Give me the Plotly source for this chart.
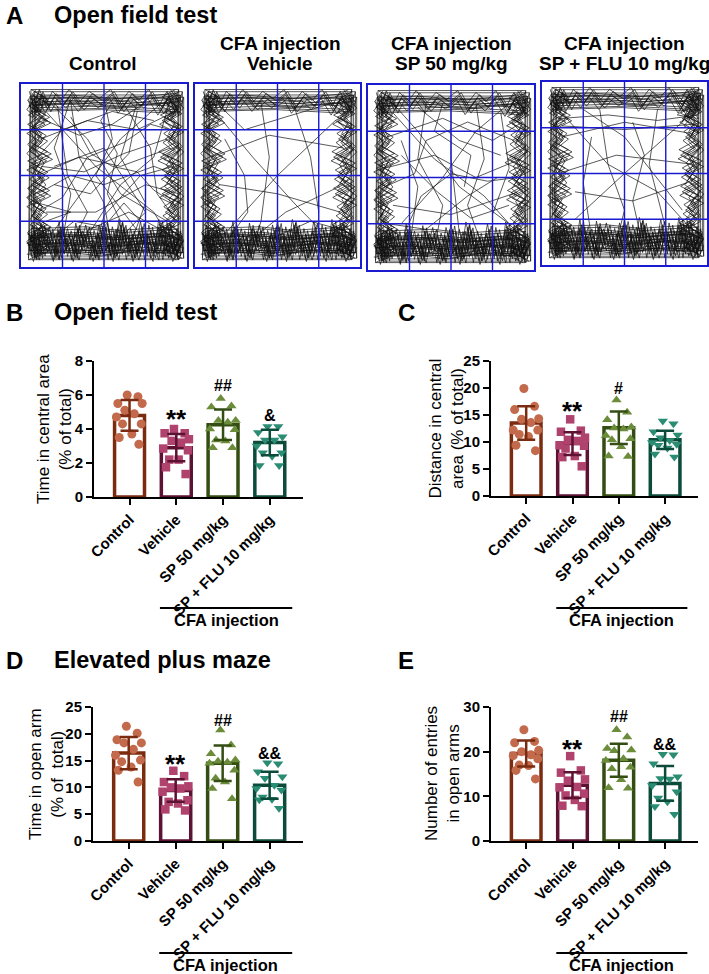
import plotly.graph_objects as go

W, H = 709, 974
FONT = "Liberation Sans, Arial, sans-serif"

GROUPS = ["Control", "Vehicle", "SP 50 mg/kg", "SP + FLU 10 mg/kg"]
LINE_COLORS = ["#7a2b10", "#5c1233", "#344d12", "#0c4a3a"]
DOT_COLORS = ["#c26a4b", "#b0436d", "#6b8c3a", "#2a8c72"]
DOT_SYMBOLS = ["circle", "square", "triangle-up", "triangle-down"]

# B - open field, time in central area (% of total)
B_MEANS = [4.8, 2.9, 4.25, 3.2]
B_SD = [0.9, 0.8, 0.9, 0.75]
B_POINTS = [
    [6.0, 5.9, 5.5, 5.5, 5.1, 4.9, 4.7, 4.3, 4.3, 3.7, 3.5, 3.1],
    [4.0, 3.75, 3.75, 3.4, 3.3, 3.2, 2.85, 2.75, 2.2, 2.2, 1.75, 1.35],
    [5.8, 5.35, 5.3, 4.5, 4.5, 4.4, 4.0, 3.95, 3.35, 3.3, 2.9, 2.9],
    [4.15, 4.15, 3.8, 3.55, 3.35, 3.35, 3.0, 2.6, 2.6, 2.4, 1.85, 1.85],
]
B_MARKS = ["", "**", "##", "&"]
B_MARK_Y = [0, 4.7, 6.55, 4.8]

# C - open field, distance in central area (% of total)
C_MEANS = [13.5, 9.7, 12.65, 10.4]
C_SD = [3.1, 2.1, 3.0, 1.7]
C_POINTS = [
    [19.9, 16.6, 16.0, 14.3, 14.2, 13.6, 12.2, 12.2, 11.4, 11.0, 9.4, 8.4],
    [14.2, 12.1, 11.9, 10.8, 10.4, 10.2, 9.4, 9.3, 8.8, 7.4, 7.2, 5.5],
    [17.8, 15.5, 14.1, 12.8, 12.6, 12.4, 11.2, 10.6, 10.4, 9.1, 7.4, 7.3],
    [13.9, 13.4, 11.9, 11.3, 10.8, 10.3, 9.9, 9.6, 9.4, 8.9, 7.8, 7.2],
]
C_MARKS = ["", "**", "#", ""]
C_MARK_Y = [0, 16.2, 19.9, 0]

# D - elevated plus maze, time in open arm (% of total)
D_MEANS = [16.4, 9.4, 14.5, 10.4]
D_SD = [3.0, 2.1, 3.3, 2.5]
D_POINTS = [
    [21.4, 20.1, 18.9, 18.3, 18.3, 17.1, 16.0, 15.1, 14.8, 13.8, 13.2, 11.0],
    [13.1, 12.1, 11.0, 10.2, 10.0, 9.8, 9.2, 7.6, 7.3, 7.0, 5.9, 5.7],
    [20.7, 17.9, 16.3, 15.1, 14.9, 14.7, 14.5, 13.2, 11.7, 11.0, 9.8, 7.9],
    [14.6, 14.4, 12.9, 12.0, 11.7, 10.4, 9.8, 9.5, 8.2, 7.8, 7.7, 6.1],
]
D_MARKS = ["", "**", "##", "&&"]
D_MARK_Y = [0, 14.8, 22.5, 16.3]

# E - elevated plus maze, number of entries in open arms
E_MEANS = [19.6, 12.5, 18.1, 12.9]
E_SD = [2.9, 2.9, 3.7, 3.9]
E_POINTS = [
    [24.9, 22.3, 22.0, 20.3, 20.0, 19.3, 19.1, 18.4, 17.0, 16.9, 15.8, 13.9],
    [19.0, 15.8, 15.3, 13.8, 13.5, 12.1, 12.0, 10.6, 10.2, 9.2, 7.9, 7.8],
    [24.9, 23.3, 20.7, 20.4, 20.2, 18.4, 18.0, 16.5, 16.2, 13.7, 11.9, 11.8],
    [19.4, 19.3, 17.3, 14.4, 14.0, 13.9, 12.4, 11.0, 9.6, 8.8, 7.7, 6.0],
]
E_MARKS = ["", "**", "##", "&&"]
E_MARK_Y = [0, 21.1, 27.9, 21.7]

# A - example tracks (arena coordinates, 0..1)
BOTTOM_A = ("0.06,0.07 0.08,0.2 0.11,0.06 0.13,0.21 0.16,0.08 0.18,0.19 0.21,0.06 0.24,0.22 "
            "0.26,0.07 0.29,0.18 0.32,0.06 0.34,0.21 0.37,0.09 0.40,0.2 0.43,0.06 0.45,0.17 "
            "0.48,0.07 0.51,0.22 0.54,0.06 0.56,0.19 0.59,0.08 0.62,0.21 0.65,0.06 0.67,0.18 "
            "0.70,0.07 0.73,0.22 0.76,0.06 0.78,0.2 0.81,0.08 0.84,0.19 0.87,0.06 0.89,0.21 "
            "0.92,0.07 0.95,0.18 0.96,0.06")
BOTTOM_B = ("0.96,0.12 0.93,0.05 0.9,0.15 0.87,0.09 0.84,0.23 0.81,0.05 0.78,0.13 0.75,0.1 "
            "0.72,0.16 0.69,0.05 0.66,0.14 0.63,0.1 0.6,0.23 0.57,0.05 0.54,0.14 0.51,0.09 "
            "0.48,0.2 0.45,0.05 0.42,0.13 0.39,0.11 0.36,0.18 0.33,0.05 0.3,0.14 0.27,0.1 "
            "0.24,0.17 0.21,0.05 0.18,0.13 0.15,0.11 0.12,0.18 0.09,0.05 0.06,0.15")
BOTTOM_LINES = [
    "0.05,0.09 0.3,0.1 0.5,0.08 0.7,0.11 0.96,0.09",
    "0.06,0.14 0.25,0.15 0.55,0.13 0.8,0.15 0.95,0.13",
    "0.07,0.18 0.4,0.19 0.6,0.17 0.94,0.19",
    "0.06,0.06 0.96,0.06 0.96,0.94 0.07,0.94 0.06,0.06",
]
TOP_A = ("0.06,0.93 0.09,0.84 0.12,0.94 0.16,0.86 0.2,0.93 0.25,0.88 0.3,0.94 0.36,0.87 "
         "0.42,0.93 0.48,0.89 0.55,0.94 0.6,0.86 0.66,0.93 0.72,0.88 0.78,0.94 0.84,0.85 "
         "0.89,0.93 0.93,0.84 0.96,0.94")
TOP_LINES = ["0.06,0.9 0.3,0.91 0.6,0.89 0.95,0.92", "0.08,0.87 0.5,0.88 0.93,0.86"]
LEFT_A = ("0.06,0.06 0.15,0.1 0.05,0.15 0.17,0.2 0.07,0.25 0.14,0.3 0.05,0.35 0.16,0.4 "
          "0.06,0.45 0.15,0.5 0.05,0.55 0.17,0.6 0.07,0.65 0.14,0.7 0.05,0.75 0.16,0.8 "
          "0.06,0.85 0.15,0.9 0.07,0.94")
LEFT_B = ("0.1,0.94 0.05,0.88 0.13,0.82 0.07,0.76 0.11,0.7 0.05,0.64 0.12,0.58 0.08,0.52 "
          "0.13,0.46 0.05,0.4 0.11,0.34 0.07,0.28 0.13,0.22 0.05,0.16 0.1,0.08")
RIGHT_A = ("0.95,0.06 0.86,0.1 0.96,0.15 0.84,0.2 0.94,0.25 0.87,0.3 0.96,0.35 0.85,0.4 "
           "0.95,0.45 0.86,0.5 0.96,0.55 0.84,0.6 0.94,0.65 0.87,0.7 0.96,0.75 0.85,0.8 "
           "0.95,0.85 0.86,0.9 0.94,0.94")
RIGHT_B = ("0.91,0.94 0.96,0.88 0.88,0.82 0.94,0.76 0.9,0.7 0.96,0.64 0.89,0.58 0.93,0.52 "
           "0.88,0.46 0.96,0.4 0.9,0.34 0.94,0.28 0.88,0.22 0.96,0.16 0.91,0.08")
WALLS = [BOTTOM_A, BOTTOM_B, TOP_A, LEFT_A, LEFT_B, RIGHT_A, RIGHT_B] + BOTTOM_LINES + TOP_LINES
# repeated laps along the walls, drawn slightly displaced
WALL_SHIFTS = [(0, 0), (0.012, 0.018), (-0.01, 0.03), (0.02, -0.012), (-0.015, -0.02)]

CONTROL_TRACKS = [
    "0.15,0.85 0.45,0.55 0.8,0.3 0.9,0.15", "0.2,0.2 0.4,0.45 0.6,0.7 0.85,0.9",
    "0.1,0.5 0.35,0.6 0.6,0.55 0.9,0.65", "0.3,0.9 0.35,0.6 0.5,0.35 0.55,0.1",
    "0.7,0.9 0.6,0.6 0.75,0.35 0.65,0.1", "0.12,0.7 0.4,0.8 0.7,0.75 0.93,0.85",
    "0.15,0.3 0.45,0.3 0.75,0.45 0.95,0.4", "0.25,0.15 0.3,0.4 0.2,0.65 0.3,0.92",
    "0.88,0.25 0.6,0.4 0.4,0.7 0.15,0.92", "0.5,0.92 0.55,0.7 0.45,0.5 0.7,0.2",
    "0.1,0.4 0.3,0.5 0.5,0.45 0.8,0.55 0.95,0.5", "0.35,0.1 0.6,0.45 0.8,0.6 0.9,0.92",
    "0.2,0.55 0.5,0.65 0.75,0.3 0.62,0.18", "0.8,0.8 0.55,0.85 0.25,0.75 0.1,0.6",
    "0.4,0.2 0.65,0.3 0.85,0.2", "0.15,0.25 0.3,0.3 0.1,0.35",
    "0.22,0.88 0.28,0.5 0.4,0.3 0.3,0.12", "0.6,0.92 0.78,0.65 0.82,0.4 0.9,0.3",
    "0.1,0.82 0.35,0.72 0.55,0.78 0.75,0.9", "0.45,0.12 0.5,0.28 0.72,0.5 0.92,0.55",
    "0.2,0.45 0.42,0.4 0.65,0.62 0.7,0.85", "0.88,0.7 0.62,0.62 0.38,0.52 0.12,0.55",
    "0.55,0.9 0.48,0.8 0.58,0.62 0.52,0.4 0.6,0.25 0.55,0.12",
    "0.1,0.3 0.25,0.38 0.4,0.6 0.62,0.68 0.78,0.78 0.9,0.75",
    "0.92,0.35 0.8,0.42 0.7,0.52 0.55,0.55 0.42,0.62 0.3,0.82",
    "0.18,0.15 0.32,0.25 0.5,0.22 0.62,0.35 0.72,0.25 0.9,0.25",
]
VEHICLE_TRACKS = [
    "0.12,0.85 0.35,0.6 0.6,0.35 0.85,0.12", "0.2,0.2 0.5,0.5 0.85,0.8",
    "0.4,0.9 0.45,0.6 0.4,0.25 0.35,0.1", "0.15,0.45 0.5,0.4 0.88,0.3",
    "0.6,0.88 0.7,0.6 0.75,0.3", "0.1,0.6 0.45,0.72 0.9,0.65", "0.3,0.12 0.55,0.3 0.9,0.45",
    "0.15,0.88 0.3,0.75 0.55,0.82 0.85,0.9", "0.9,0.2 0.7,0.25 0.45,0.15",
    "0.18,0.7 0.3,0.5 0.32,0.3 0.2,0.15",
]
SP_TRACKS = [
    "0.15,0.85 0.4,0.6 0.7,0.4 0.9,0.2", "0.2,0.25 0.45,0.5 0.65,0.75 0.85,0.9",
    "0.1,0.55 0.4,0.62 0.65,0.5 0.92,0.6", "0.35,0.9 0.3,0.6 0.45,0.35 0.4,0.12",
    "0.65,0.9 0.7,0.6 0.6,0.35 0.7,0.1", "0.12,0.72 0.45,0.82 0.75,0.7 0.93,0.8",
    "0.15,0.35 0.5,0.3 0.9,0.42", "0.85,0.25 0.55,0.45 0.3,0.75 0.15,0.9",
    "0.5,0.92 0.5,0.6 0.55,0.2", "0.25,0.12 0.3,0.45 0.2,0.7", "0.8,0.85 0.85,0.55 0.75,0.3",
    "0.2,0.62 0.42,0.42 0.62,0.28 0.85,0.35", "0.3,0.88 0.55,0.7 0.8,0.62",
    "0.12,0.25 0.35,0.22 0.6,0.4 0.78,0.5", "0.45,0.9 0.4,0.75 0.62,0.62 0.58,0.45",
    "0.1,0.45 0.28,0.52 0.35,0.7 0.6,0.8 0.88,0.7",
    "0.9,0.5 0.72,0.48 0.5,0.52 0.32,0.4 0.22,0.2",
]
FLU_TRACKS = [
    "0.15,0.8 0.4,0.55 0.7,0.4 0.9,0.2", "0.2,0.25 0.5,0.5 0.85,0.78",
    "0.1,0.5 0.45,0.6 0.92,0.55", "0.35,0.85 0.4,0.55 0.5,0.3 0.45,0.12",
    "0.7,0.85 0.65,0.55 0.75,0.2", "0.12,0.7 0.5,0.78 0.9,0.72",
    "0.2,0.4 0.55,0.35 0.88,0.45", "0.85,0.3 0.5,0.7 0.25,0.85", "0.3,0.15 0.25,0.45 0.3,0.7",
    "0.1,0.8 0.4,0.82 0.7,0.79 0.95,0.82", "0.12,0.76 0.5,0.74 0.93,0.77",
    "0.8,0.95 0.95,0.8 0.82,0.82 0.95,0.92 0.85,0.78 0.93,0.95 0.88,0.8 0.96,0.86",
    "0.84,0.9 0.94,0.84 0.86,0.76 0.95,0.72 0.83,0.88",
    "0.6,0.15 0.55,0.35 0.62,0.6 0.55,0.78",
]

ARENA_TITLES = [["", "Control"], ["CFA injection", "Vehicle"],
                ["CFA injection", "SP 50 mg/kg"], ["CFA injection", "SP + FLU 10 mg/kg"]]
ARENA_TRACKS = [CONTROL_TRACKS, VEHICLE_TRACKS, SP_TRACKS, FLU_TRACKS]
ARENA_DIVISIONS = [0.25, 0.5, 0.75]

# layout in page pixels (left, right, top, bottom)
ARENA_PX = [(21, 187, 84, 267), (195, 360, 84, 267), (368, 534, 85, 270), (542, 707, 82, 265)]
ARENA_TEXT_X = [103, 280, 451, 624]
BLUE = "#1a1ad0"

PANELS = [
    dict(letter="B", title="Open field test", means=B_MEANS, sd=B_SD, points=B_POINTS,
         marks=B_MARKS, mark_y=B_MARK_Y, ymax=8, dtick=2, box=(94, 303, 361, 497),
         ytitle="Time in central area<br>(% of total)", ytitle_x=54, bracket_y=608),
    dict(letter="C", title="", means=C_MEANS, sd=C_SD, points=C_POINTS,
         marks=C_MARKS, mark_y=C_MARK_Y, ymax=25, dtick=5, box=(491, 698, 361, 496),
         ytitle="Distance in central<br>area (% of total)", ytitle_x=446, bracket_y=608),
    dict(letter="D", title="Elevated plus maze", means=D_MEANS, sd=D_SD, points=D_POINTS,
         marks=D_MARKS, mark_y=D_MARK_Y, ymax=25, dtick=5, box=(93, 303, 707, 841),
         ytitle="Time in open arm<br>(% of  total)", ytitle_x=46, bracket_y=953),
    dict(letter="E", title="", means=E_MEANS, sd=E_SD, points=E_POINTS,
         marks=E_MARKS, mark_y=E_MARK_Y, ymax=30, dtick=10, box=(491, 698, 707, 841),
         ytitle="Number of entries<br>in open arms", ytitle_x=442, bracket_y=953),
]
PANEL_LETTER_PX = [(4, 312), (396, 312), (4, 660), (396, 660)]

# horizontal spread of the dots inside each bar (sorted from top value down)
DOT_SPREAD = [-0.05, 0.18, -0.25, 0.27, -0.1, 0.1, -0.28, 0.25, -0.15, 0.05, -0.22, 0.2]


def parse(s):
    return [tuple(float(v) for v in p.split(",")) for p in s.split()]


def ref(n):
    return ("x", "y") if n == 1 else (f"x{n}", f"y{n}")


def lay(n):
    return ("xaxis", "yaxis") if n == 1 else (f"xaxis{n}", f"yaxis{n}")


def fx(px):
    return px / W


def fy(py):
    return 1 - py / H


def text_at(px, py, text, size, anchor="center", **kw):
    # annotation placed in page pixels
    return dict(x=fx(px), y=fy(py), xref="paper", yref="paper", text=text,
                font=dict(size=size), xanchor=anchor, yanchor="middle", showarrow=False, **kw)


fig = go.Figure()
layout = {}
annotations = []
shapes = []

# panel A
annotations.append(text_at(4, 15, "<b>A</b>", 24, "left"))
annotations.append(text_at(52, 15, "<b>Open field test</b>", 23.5, "left"))

for i, tracks in enumerate(ARENA_TRACKS):
    n = i + 1
    xr, yr = ref(n)
    xl, yl = lay(n)
    left, right, top, bottom = ARENA_PX[i]
    xs, ys = [], []
    paths = [(s, dx, dy) for s in WALLS for dx, dy in WALL_SHIFTS] + [(s, 0, 0) for s in tracks]
    for s, dx, dy in paths:
        for x, y in parse(s):
            xs.append(x + dx)
            ys.append(y + dy)
        xs.append(None)
        ys.append(None)
    fig.add_trace(go.Scatter(x=xs, y=ys, mode="lines", line=dict(color="#111111", width=0.7),
                             xaxis=xr, yaxis=yr, hoverinfo="skip"))
    frame = dict(range=[0, 1], showgrid=False, showline=True, mirror=True, linecolor=BLUE,
                 linewidth=1.6, zeroline=False, showticklabels=False, ticks="",
                 fixedrange=True, automargin=False, layer="above traces")
    layout[xl] = dict(frame, domain=[fx(left), fx(right)], anchor=yr)
    layout[yl] = dict(frame, domain=[fy(bottom), fy(top)], anchor=xr)
    # the blue 4 x 4 grid sits on top of the tracks
    for d in ARENA_DIVISIONS:
        shapes.append(dict(type="line", xref=xr, yref=f"{yr} domain", x0=d, x1=d, y0=0, y1=1,
                           layer="above", line=dict(color=BLUE, width=1.4)))
        shapes.append(dict(type="line", xref=f"{xr} domain", yref=yr, x0=0, x1=1, y0=d, y1=d,
                           layer="above", line=dict(color=BLUE, width=1.4)))
    for line_text, py in zip(ARENA_TITLES[i], (43, 64)):
        if line_text:
            annotations.append(text_at(ARENA_TEXT_X[i], py, f"<b>{line_text}</b>", 19))

# panels B-E
for k, p in enumerate(PANELS):
    n = k + 5
    xr, yr = ref(n)
    xl, yl = lay(n)
    left, right, top, bottom = p["box"]

    fig.add_trace(go.Bar(x=[0, 1, 2, 3], y=p["means"], width=0.64,
                         marker=dict(color="white", line=dict(color=LINE_COLORS, width=3.5)),
                         xaxis=xr, yaxis=yr))
    for g in range(4):
        vals = sorted(p["points"][g], reverse=True)
        fig.add_trace(go.Scatter(
            x=[g + DOT_SPREAD[j % len(DOT_SPREAD)] for j in range(len(vals))], y=vals,
            mode="markers", cliponaxis=False,
            marker=dict(symbol=DOT_SYMBOLS[g], size=9 if g != 1 else 8.5, color=DOT_COLORS[g],
                        line=dict(width=0)),
            xaxis=xr, yaxis=yr))
    for g in range(4):
        fig.add_trace(go.Scatter(
            x=[g], y=[p["means"][g]], mode="markers", cliponaxis=False,
            marker=dict(size=1, color="rgba(0,0,0,0)"),
            error_y=dict(type="data", array=[p["sd"][g]], color=LINE_COLORS[g],
                         thickness=2.5, width=9),
            xaxis=xr, yaxis=yr))

    layout[xl] = dict(domain=[fx(left), fx(right)], range=[-0.76, 3.71], anchor=yr,
                      tickvals=[0, 1, 2, 3], ticktext=GROUPS, tickangle=-45,
                      ticks="outside", ticklen=6, tickwidth=2, tickcolor="black",
                      showline=True, linewidth=2, linecolor="black", showgrid=False,
                      zeroline=False, fixedrange=True, automargin=False,
                      tickfont=dict(size=15, color="black", weight="bold"))
    layout[yl] = dict(domain=[fy(bottom), fy(top)], range=[0, p["ymax"]], anchor=xr,
                      dtick=p["dtick"], tick0=0, ticks="outside", ticklen=6, tickwidth=2,
                      tickcolor="black", showline=True, linewidth=2, linecolor="black",
                      showgrid=False, zeroline=False, fixedrange=True, automargin=False,
                      tickfont=dict(size=15, color="black", weight="bold"))

    for g in range(4):
        if p["marks"][g]:
            big = p["marks"][g] == "**"
            annotations.append(dict(x=g, y=p["mark_y"][g], xref=xr, yref=yr,
                                    text=f"<b>{p['marks'][g]}</b>", showarrow=False,
                                    font=dict(size=26 if big else 16), xanchor="center",
                                    yanchor="middle", yshift=-2 if big else 0))

    lx, ly = PANEL_LETTER_PX[k]
    annotations.append(text_at(lx, ly, f"<b>{p['letter']}</b>", 24, "left"))
    if p["title"]:
        annotations.append(text_at(52, ly, f"<b>{p['title']}</b>", 23.5, "left"))

    annotations.append(text_at(p["ytitle_x"], (top + bottom) / 2, p["ytitle"], 17,
                               textangle=-90))

    # CFA injection bracket under the three treated groups
    bx0 = left + (0.65 + 0.76) / 4.47 * (right - left)
    bx1 = left + (3.48 + 0.76) / 4.47 * (right - left)
    by = p["bracket_y"]
    shapes.append(dict(type="line", xref="paper", yref="paper", x0=fx(bx0), x1=fx(bx1),
                       y0=fy(by), y1=fy(by), line=dict(color="black", width=2)))
    annotations.append(text_at((bx0 + bx1) / 2, by + 12, "<b>CFA injection</b>", 16.5))

fig.update_layout(
    width=W, height=H, margin=dict(l=0, r=0, t=0, b=0, autoexpand=False),
    paper_bgcolor="white", plot_bgcolor="white", showlegend=False,
    font=dict(family=FONT, color="black"),
    annotations=annotations, shapes=shapes, **layout,
)

# drop the default page margin so the figure fills the window exactly
fig.write_html("out.html", config={"displayModeBar": False},
               post_script="document.body.style.margin='0';document.body.style.overflow='hidden';")
